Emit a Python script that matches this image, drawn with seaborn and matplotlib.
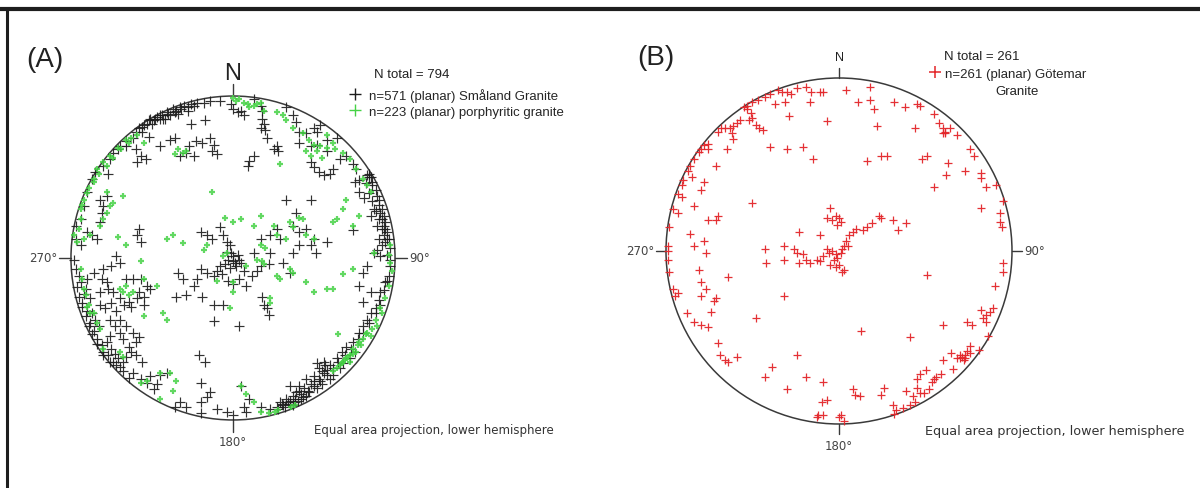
import numpy as np
import pandas as pd
import matplotlib
matplotlib.use('Agg')
import matplotlib.pyplot as plt
from matplotlib.patches import Circle
from matplotlib.lines import Line2D
import seaborn as sns

# ---------------------------------------------------------
# Poles to planar fractures, equal area net, lower hemisphere.
# Values are (east, north) positions in % of the net radius.
# ---------------------------------------------------------
smaland_girdle = [
    (-51, 86), (-47, 87), (-45, 88), (-41, 90), (-37, 92), (-33, 93), (-30, 94), (-26, 95), (-22, 96),
    (-39, 88), (-43, 86), (-49, 85), (-53, 83), (-56, 81), (-35, 91), (-45, 86), (-60, 78), (-58, 80),
    (-55, 82), (-52, 85), (-48, 86), (-44, 88), (-40, 89), (-36, 90), (-32, 92), (-28, 93), (-24, 94),
    (-18, 96), (-14, 97), (-28, 91), (-34, 89), (-42, 86), (-50, 83), (-56, 78), (-62, 74), (-66, 72),
    (-70, 69),
    (-8, 97), (-1, 95), (0, 92), (3, 90), (5, 91), (7, 88), (13, 98), (17, 94), (18, 91), (18, 86),
    (33, 93), (37, 88), (39, 84), (41, 78), (45, 77), (50, 80), (54, 82), (52, 78), (58, 73), (64, 74),
    (66, 61), (70, 63), (74, 58), (76, 55), (78, 48), (83, 51), (85, 50), (86, 45), (89, 38), (90, 33),
    (91, 28), (92, 24), (93, 20), (95, 16), (94, 10), (92, 8), (89, 5), (87, 3), (91, 1), (95, 2),
    (97, 6), (75, 47), (78, 41), (81, 37), (86, 35), (88, 29), (85, 26), (89, 20), (94, 22), (96, 12),
    (93, 14), (90, 12), (92, 18), (84, 50), (86, 47), (88, 42), (90, 36), (92, 30), (93, 26), (94, 18),
    (95, 12), (90, 24), (87, 30), (84, 40), (82, 46), (84, 52),
    (-97, 20), (-97, 12), (-94, 8), (-90, 16), (-87, 14), (-84, 12), (-94, 24), (-92, 32), (-90, 41),
    (-87, 49), (-85, 53), (-80, 57), (-76, 61), (-74, 65), (-71, 67), (-77, 52), (-98, -1), (-97, -7),
    (-95, -11), (-94, -15), (-91, -19), (-88, -25), (-87, -34), (-85, -38), (-83, -42), (-84, -50),
    (-81, -54), (-78, -52), (-76, -48), (-75, -56), (-73, -59), (-71, -62), (-68, -64), (-66, -61),
    (-63, -58), (-60, -52), (-58, -49), (-70, -46), (-73, -42), (-76, -38), (-79, -31), (-82, -29),
    (-90, -13), (-86, -9), (-92, -22), (-93, -28), (-90, -33), (-88, -40), (-86, -45), (-80, -58),
    (-77, -60), (-74, -64), (-70, -67), (-96, -18), (-95, -24), (-93, -30), (-91, -36), (-89, -42),
    (-87, -47), (-84, -53), (-80, -60), (-76, -64), (-72, -66), (-68, -70), (-64, -74),
    (-62, -71), (-57, -75), (-53, -77), (-47, -78), (-49, -81), (-51, -73), (-45, -72), (-41, -71),
    (-36, -92), (-33, -89), (-29, -92), (-20, -89), (-16, -86), (-14, -83), (-20, -77), (-20, -96),
    (-10, -93), (-4, -95), (0, -97), (7, -92), (10, -87), (5, -79), (8, -95), (17, -92),
    (23, -93), (27, -92), (31, -91), (35, -88), (37, -85), (39, -83), (41, -82), (44, -80), (48, -78),
    (50, -76), (53, -75), (56, -71), (58, -69), (60, -66), (56, -64), (52, -65), (50, -73), (45, -75),
    (41, -79), (35, -79), (33, -87), (29, -89), (37, -91), (28, -93), (45, -85), (42, -87), (64, -62),
    (67, -58), (70, -55), (74, -52), (78, -46), (80, -42), (83, -38), (85, -34), (88, -31), (91, -29),
    (91, -21), (94, -15), (96, -11), (97, -5), (97, -1), (78, -17), (80, -9), (83, -5), (80, -27),
    (85, -21), (60, -75), (55, -78), (52, -80), (47, -83), (43, -86), (40, -88), (62, -72), (66, -68),
    (68, -65), (72, -62), (75, -58), (38, -89), (32, -92), (35, -90), (30, -90), (34, -89), (38, -87),
    (42, -84), (46, -82), (50, -79), (54, -76), (58, -72), (62, -68), (65, -64), (69, -60), (73, -56),
    (77, -50), (80, -46), (84, -40), (88, -34), (90, -26), (93, -20), (95, -14), (53, -68), (55, -70),
    (57, -66),
]

smaland_inner = [
    (-52, 75), (-45, 69), (-39, 73), (-36, 74), (-26, 83), (-17, 85), (-23, 72), (-27, 69), (-19, 71),
    (-14, 74), (-12, 70), (-13, 66), (-10, 64), (-33, 63), (-29, 65), (-24, 63), (-57, 63), (-59, 59),
    (-54, 61), (-60, 67), (-66, 69),
    (19, 83), (20, 79), (21, 74), (17, 80), (13, 63), (10, 60), (9, 57), (27, 69), (28, 66), (25, 67),
    (41, 71), (48, 69), (52, 70), (58, 66), (48, 59), (50, 56), (53, 53), (56, 51), (60, 52), (62, 55),
    (74, 17),
    (33, 36), (48, 36), (39, 28), (37, 20), (41, 16), (45, 18), (50, 12), (48, 8), (51, 3), (58, 10),
    (27, 18), (29, 12), (23, 14), (17, 12), (13, 3), (17, -5), (22, -4), (31, -3), (35, -9), (37, 3),
    (41, 8), (23, 3),
    (-20, 16), (-16, 14), (-13, 12), (-8, 19), (-6, 14), (-4, 10), (-2, 8), (-1, 3), (0, 1), (-3, -1),
    (-5, -4), (-8, -5), (-10, -8), (-7, -10), (-12, -11), (-16, -9), (-20, -7), (-22, -13), (-31, -13),
    (-34, -9), (1, -3), (4, -1), (7, -8), (4, -13), (12, -11), (15, -8), (8, -17), (-3, -14), (0, -16),
    (-19, -24), (-35, -24), (-29, -23), (-24, -17), (-12, -29), (-6, -29), (-12, -39), (4, -42),
    (0, -2), (2, -5), (-2, -6), (5, -3), (3, 2), (-4, 4), (18, -24), (19, -29), (21, -31), (22, -35),
    (-58, 18), (-57, 10), (-59, 14), (-72, 1), (-70, -3), (-75, -5), (-80, -7), (-81, -13), (-78, -15),
    (-77, -19), (-82, -21), (-74, -21), (-70, -25), (-66, -13), (-62, -13), (-57, -13), (-53, -17),
    (-51, -19), (-58, -21), (-55, -24), (-59, -25), (-64, -27), (-67, -29), (-63, -30), (-55, -29),
    (-82, 22), (-81, 28), (-80, 32), (-82, 36), (-78, 38), (-21, -60), (-17, -64),
    (-75, -28), (-72, -33), (-70, -38), (-66, -42), (-62, -46), (-68, -50), (-64, -55), (-60, -60),
    (-56, -64),
]

porph_girdle = [
    (0, 99), (4, 98), (7, 96), (9, 95), (13, 94), (17, 96), (19, 91), (27, 90), (31, 88), (33, 85),
    (37, 80), (43, 77), (47, 73), (50, 70), (54, 69), (58, 68), (62, 71), (58, 76), (63, 67), (68, 65),
    (72, 61), (76, 55), (80, 49), (83, 45), (85, 41), (2, 97), (10, 93), (15, 95),
    (-66, 73), (-63, 74), (-59, 76), (-55, 71), (-71, 68), (-76, 63), (-80, 59), (-84, 55), (-86, 49),
    (-89, 43), (-92, 36), (-94, 30), (-94, 24), (-95, 18), (-98, 14), (-96, 10), (-92, 12), (-88, 14),
    (-86, 47), (-83, 52), (-78, 57), (-74, 62), (-69, 67), (-64, 71), (-90, 40), (-93, 33),
    (-94, -7), (-93, -13), (-92, -19), (-91, -23), (-89, -29), (-86, -34), (-82, -44), (-80, -56),
    (-70, -58), (-68, -61), (-57, -77), (-53, -76), (-45, -71), (-39, -71), (-35, -76), (-37, -82),
    (-45, -87), (8, -84), (13, -89), (17, -95), (22, -96), (26, -95), (36, -92), (38, -91), (28, -94),
    (-90, -30), (-88, -34), (-84, -40),
    (97, -3), (98, -8), (96, -17), (94, -25), (92, -34), (89, -42), (86, -44), (83, -46), (78, -52),
    (74, -56), (72, -60), (70, -62), (68, -64), (65, -47), (66, -66), (72, -64), (76, -58), (79, -54),
    (85, -48), (88, -38), (91, -31), (96, 2), (97, 8), (87, 3), (62, -70), (64, -68), (67, -65),
    (69, -63), (71, -61), (74, -59), (77, -54), (80, -50), (82, -47),
]

porph_inner = [
    (45, 66), (29, 58), (70, 36), (68, 30), (64, 24), (62, 22), (74, 20), (78, 26), (55, 62), (52, 66),
    (48, 63),
    (-82, 20), (-80, 24), (-78, 28), (-76, 32), (-74, 34), (-78, 41), (-68, 38), (-31, 65), (-29, 66),
    (-34, 67), (-36, 64), (-13, 41),
    (-70, -19), (-68, -21), (-66, -17), (-64, -23), (-62, -21), (-55, -36), (-43, -34), (-41, -38),
    (5, -79),
    (-5, 25), (0, 22), (5, 24), (17, 26), (13, 20), (25, 20), (35, 22), (37, 19), (41, 25), (43, 24),
    (27, 14), (33, 12), (45, 14), (50, 12), (17, 8), (20, 6), (8, -5), (15, -1), (18, -2), (19, -4),
    (-4, 3), (-6, 1), (-16, 8), (-18, 5), (-31, 9), (-37, 14), (-41, 12), (-57, -2), (-66, 8),
    (-71, 13), (-55, -13), (-47, -17), (0, -21), (-2, -31), (-10, -14), (35, -7), (37, -9), (45, -15),
    (50, -21), (62, -19), (68, -10), (74, -7), (23, -25), (29, -13), (23, -28), (27, -11), (0, -15),
    (58, -19),
]

gotemar_girdle = [
    (-35, 93), (-33, 92), (-30, 92), (-40, 91), (-43, 89), (-47, 87), (-50, 86), (-53, 84), (-55, 83),
    (-53, 82), (-51, 80), (-50, 77), (-48, 73), (-46, 71), (-44, 70), (-52, 76), (-57, 76), (-59, 74),
    (-61, 72), (-63, 71), (-62, 68), (-66, 71), (-68, 71), (-70, 69), (-61, 65), (-76, 62), (-78, 61),
    (-80, 59), (-76, 59), (-81, 57), (-84, 53), (-86, 49), (-87, 46), (-85, 43), (-90, 41), (-91, 38),
    (-93, 33), (-91, 31), (-96, 24), (-93, 22), (-98, 14), (-99, 3), (-99, 0), (-99, -5), (-98, -12),
    (-96, -22), (-95, -26), (-93, -24), (-65, 59), (-78, 40), (-80, 35), (-84, 26), (-71, 49),
    (-28, 91), (-31, 86), (-37, 85), (-29, 78), (-24, 94), (-19, 95), (-16, 92), (-17, 86), (-11, 92),
    (-9, 92), (4, 93), (18, 95), (11, 86), (18, 87), (20, 82), (32, 86), (38, 83), (45, 85), (47, 84),
    (55, 79), (58, 74), (60, 71), (61, 68), (64, 71), (68, 67), (60, 68), (61, 69),
    (76, 59), (78, 55), (73, 46), (82, 45), (82, 42), (85, 37), (91, 38), (82, 25), (93, 22), (95, 29),
    (93, 17), (94, 14), (95, -7), (95, -12), (90, -20), (89, -33), (87, -35), (85, -37), (82, -34),
    (83, -39), (85, -41), (77, -43), (74, -41), (86, -49), (81, -57), (76, -55), (76, -59), (73, -60),
    (70, -62), (72, -63), (68, -62), (65, -59), (66, -68), (60, -63), (59, -71), (56, -73), (55, -74),
    (54, -76), (52, -80), (49, -82), (47, -82), (45, -79), (43, -84), (44, -87), (39, -81), (41, -89),
    (37, -91), (33, -92), (31, -89), (32, -94), (50, -69), (47, -71), (45, -74), (71, -61), (73, -62),
    (70, -60), (74, -58),
    (26, -79), (24, -83), (-9, -76), (-7, -86), (-10, -87), (-19, -73), (-30, -80), (-39, -67),
    (-43, -73), (8, -80), (12, -84), (-13, -96), (-9, -95), (9, -83), (1, -95), (3, -98), (-12, -95),
    (0, -96),
    (-88, -36), (-84, -41), (-80, -43), (-76, -44), (-70, -53), (-69, -60), (-66, -63), (-64, -64),
    (-59, -61),
]

gotemar_inner = [
    (-86, 10), (-84, 3), (-78, 6), (-77, -1), (-76, 18), (-70, 20), (-71, 18), (-81, -11), (-80, -18),
    (-77, -22), (-80, -26), (-71, -27), (-72, -29), (-74, -35), (-50, 28), (-64, -15), (-48, -39),
    (-32, -26), (-24, -60),
    (-40, 60), (-30, 59), (-21, 60), (-15, 53), (-7, 75), (22, 72), (24, 55), (28, 55), (16, 52),
    (44, 71), (51, 55), (48, 53), (63, 51), (62, 44), (55, 37),
    (51, -14), (41, -50), (13, -46), (60, -43),
    (-5, 25), (-7, 19), (-4, 18), (-2, 20), (0, 19), (-1, 15), (1, 17), (-23, 11), (-11, 9), (-32, 3),
    (-26, 1), (-24, -1), (-21, -2), (-19, -5), (-23, -7), (-17, -7), (-13, -5), (-11, -6), (-9, -3),
    (-6, -1), (-4, 0), (-2, -2), (-3, -5), (-1, -4), (1, -1), (2, 1), (3, 3), (4, 6), (6, 9), (8, 11),
    (10, 13), (-5, -8), (-2, -9), (0, -8), (2, -12), (3, -11), (14, 12), (16, 14), (19, 16), (23, 20),
    (24, 19), (31, 18), (34, 12), (39, 16), (-43, 1), (-42, -7), (-32, -5), (5, 3), (-7, 1),
]

n_total_a = 794
n_smaland = 571
n_porph = 223
n_total_b = 261
n_gotemar = 261


def to_frame(*groups):
    pts = np.array([p for g in groups for p in g], dtype=float) / 100.0
    return pd.DataFrame(pts, columns=['east', 'north'])


df_smaland = to_frame(smaland_girdle, smaland_inner)
df_porph = to_frame(porph_girdle, porph_inner)
df_gotemar = to_frame(gotemar_girdle, gotemar_inner)

# ---------------------------------------------------------
# style
# ---------------------------------------------------------
sns.set_theme(style='white')
plt.rcParams['font.family'] = ['Liberation Sans', 'DejaVu Sans']

NET_COLOR = '#3a3a3a'
LABEL_COLOR = '#444444'
BLACK = '#1c1c1c'
GREEN = '#46d246'
RED = '#e3262a'


def draw_net(ax, tick, n_size, n_off, lab_gap, s_off):
    ax.add_patch(Circle((0, 0), 1.0, fill=False, ec=NET_COLOR, lw=1.1, zorder=1))
    ax.plot([0, 0], [1.0, 1.0 + tick], color=NET_COLOR, lw=1.0)
    ax.plot([0, 0], [-1.0, -1.0 - tick], color=NET_COLOR, lw=1.0)
    ax.plot([-1.0, -1.0 - tick], [0, 0], color=NET_COLOR, lw=1.0)
    ax.plot([1.0, 1.0 + tick], [0, 0], color=NET_COLOR, lw=1.0)
    ax.text(0, 1.0 + n_off, 'N', ha='center', va='center', fontsize=n_size, color='#222222')
    ax.text(-1.0 - tick - lab_gap, 0, '270°', ha='right', va='center', fontsize=8.5,
            color=LABEL_COLOR, family='DejaVu Sans')
    ax.text(1.0 + tick + lab_gap, 0, '90°', ha='left', va='center', fontsize=8.5,
            color=LABEL_COLOR, family='DejaVu Sans')
    ax.text(0, -1.0 - s_off, '180°', ha='center', va='center', fontsize=8.5,
            color=LABEL_COLOR, family='DejaVu Sans')


fig = plt.figure(figsize=(12, 4.89), dpi=100)
ax_a = fig.add_axes([0.0, 0.0, 0.5, 1.0])
ax_b = fig.add_axes([0.5, 0.0, 0.5, 1.0])

# ---------------------------------------------------------
# (A) Småland granite + porphyritic granite
# ---------------------------------------------------------
sns.scatterplot(data=df_smaland, x='east', y='north', marker='+', s=50, linewidth=0.85,
                color=BLACK, alpha=0.9, legend=False, ax=ax_a, zorder=3)
sns.scatterplot(data=df_porph, x='east', y='north', marker='+', s=14, linewidth=1.6,
                color=GREEN, alpha=0.85, legend=False, ax=ax_a, zorder=4)
draw_net(ax_a, tick=0.075, n_size=17, n_off=0.14, lab_gap=0.01, s_off=0.13)
ax_a.text(-1.16, 1.23, '(A)', ha='center', va='center', fontsize=20, color='#222222')
ax_a.text(0.87, 1.136, f'N total = {n_total_a}', ha='left', va='center', fontsize=9.5, color='#222222')
handles_a = [
    Line2D([], [], ls='', marker='+', ms=9, mew=1.0, color=BLACK),
    Line2D([], [], ls='', marker='+', ms=9, mew=1.0, color=GREEN),
]
labels_a = [f'n={n_smaland} (planar) Småland Granite',
            f'n={n_porph} (planar) porphyritic granite']
ax_a.legend(handles_a, labels_a, loc='upper left', bbox_to_anchor=(0.71, 1.05),
            bbox_transform=ax_a.transData, frameon=False, fontsize=9.5, handlelength=1.0,
            handletextpad=0.6, labelspacing=0.3, borderpad=0, borderaxespad=0)
ax_a.text(0.5, -1.056, 'Equal area projection, lower hemisphere', ha='left', va='center',
          fontsize=8.5, color='#333333', family='DejaVu Sans')
ax_a.set_xlim(-1.438, 2.265)
ax_a.set_ylim(-1.420, 1.599)

# ---------------------------------------------------------
# (B) Götemar granite
# ---------------------------------------------------------
sns.scatterplot(data=df_gotemar, x='east', y='north', marker='+', s=38, linewidth=0.9,
                color=RED, alpha=0.95, legend=False, ax=ax_b, zorder=3)
draw_net(ax_b, tick=0.058, n_size=9, n_off=0.121, lab_gap=0.012, s_off=0.127)
ax_b.text(-1.058, 1.121, '(B)', ha='center', va='center', fontsize=20, color='#222222')
ax_b.text(0.607, 1.127, f'N total = {n_total_b}', ha='left', va='center', fontsize=9.5, color='#222222')
handles_b = [Line2D([], [], ls='', marker='+', ms=9, mew=1.1, color=RED)]
ax_b.legend(handles_b, [f'n={n_gotemar} (planar) Götemar'], loc='upper left',
            bbox_to_anchor=(0.52, 1.06), bbox_transform=ax_b.transData, frameon=False,
            fontsize=9.5, handlelength=0.9, handletextpad=0.35, borderpad=0, borderaxespad=0)
ax_b.text(0.902, 0.925, 'Granite', ha='left', va='center', fontsize=9.5, color='#222222')
ax_b.text(0.497, -1.04, 'Equal area projection, lower hemisphere', ha='left', va='center',
          fontsize=9.2, color='#333333', family='DejaVu Sans')
ax_b.set_xlim(-1.3815, 2.0867)
ax_b.set_ylim(-1.370, 1.4566)

for ax in (ax_a, ax_b):
    ax.set_axis_off()

# frame of the original figure
fig.add_artist(Line2D([0, 1], [1 - 10 / 489, 1 - 10 / 489], transform=fig.transFigure,
                      color='#1e1e1e', lw=3.0))
fig.add_artist(Line2D([7 / 1200, 7 / 1200], [0, 1 - 10 / 489], transform=fig.transFigure,
                      color='#1e1e1e', lw=2.2))

fig.savefig('out.png', dpi=100, facecolor='white')
